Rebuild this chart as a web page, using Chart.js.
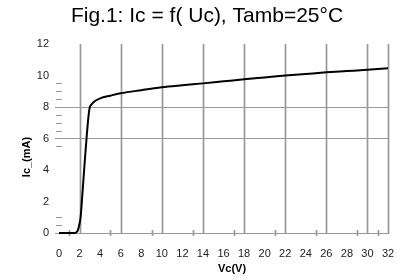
<!DOCTYPE html>
<html><head><meta charset="utf-8">
<script src="https://cdn.jsdelivr.net/npm/chart.js@4/dist/chart.umd.min.js"></script>
<style>html,body{margin:0;padding:0;background:#fff;}#wrap{width:406px;height:280px;}</style>
</head><body><div id="wrap"><canvas id="c" width="406" height="280"></canvas></div>
<script>
const chartTitle = 'Fig.1: Ic = f( Uc), Tamb=25°C';
const xTitle = 'Vc(V)';
const yTitle = 'Ic_(mA)';
const vc = [0, 1, 1.5, 1.7, 1.85, 2.0, 2.1, 2.3, 2.5, 2.7, 2.9, 3.0, 3.1, 3.5, 4, 5, 6, 8, 10, 12, 14, 16, 18, 20, 22, 24, 26, 28, 30, 32];
const ic = [0, 0, 0, 0.05, 0.2, 0.6, 1.0, 2.7, 4.5, 6.2, 7.6, 8.0, 8.12, 8.38, 8.55, 8.72, 8.87, 9.07, 9.25, 9.38, 9.5, 9.63, 9.76, 9.88, 10.0, 10.1, 10.2, 10.28, 10.36, 10.46];
const xGridValues = [2, 6, 10, 14, 18, 22, 26, 30, 32];
const yGridValues = [0, 6, 8];
const xMinorTicks = [1, 5, 9, 13, 17, 21, 25, 29, 31];
const yMinorTicks = [0.5, 1, 5.5, 6.5, 7, 7.5, 8.5, 9, 9.5];

const gridColor = '#999999';
const FONT = '"Liberation Sans", Arial, sans-serif';

const decor = {
  id: 'decor',
  beforeDatasetsDraw(chart) {
    const {ctx, scales: {x, y}, chartArea: a} = chart;
    ctx.save();
    ctx.strokeStyle = gridColor;
    ctx.lineWidth = 1.7;
    xGridValues.forEach(v => {
      const px = Math.round(x.getPixelForValue(v)) + 0.5;
      ctx.beginPath(); ctx.moveTo(px, a.top); ctx.lineTo(px, a.bottom + 1); ctx.stroke();
    });
    xMinorTicks.forEach(v => {
      const px = Math.round(x.getPixelForValue(v)) + 0.5;
      ctx.beginPath(); ctx.moveTo(px, a.bottom - 3); ctx.lineTo(px, a.bottom + 3); ctx.stroke();
    });
    ctx.lineWidth = 1;
    yMinorTicks.forEach(v => {
      const py = Math.round(y.getPixelForValue(v)) + 0.5;
      ctx.beginPath(); ctx.moveTo(a.left - 3, py); ctx.lineTo(a.left + 3, py); ctx.stroke();
    });
    ctx.restore();
  },
  afterDraw(chart) {
    const ctx = chart.ctx;
    ctx.save();
    ctx.fillStyle = '#000';
    ctx.textAlign = 'center'; ctx.textBaseline = 'middle';
    ctx.font = '21px ' + FONT;
    ctx.fillText(chartTitle, 207, 16);
    ctx.font = 'bold 11px ' + FONT;
    ctx.fillText(xTitle, 232, 269);
    ctx.translate(27, 157); ctx.rotate(-Math.PI / 2);
    ctx.fillText(yTitle, 0, 0);
    ctx.restore();
  }
};

new Chart(document.getElementById('c'), {
  type: 'line',
  data: {
    datasets: [{
      data: vc.map((v, i) => ({x: v, y: ic[i]})),
      borderColor: '#000',
      borderWidth: 2,
      pointRadius: 0,
      cubicInterpolationMode: 'monotone',
      fill: false,
      clip: false
    }]
  },
  options: {
    responsive: false,
    animation: false,
    layout: {padding: {top: 44, right: 18, left: 0, bottom: 0}},
    plugins: {legend: {display: false}, title: {display: false}, tooltip: {enabled: false}},
    scales: {
      x: {
        type: 'linear', min: 0, max: 32,
        afterFit: s => { s.height = 47; },
        ticks: {stepSize: 2, autoSkip: false, maxRotation: 0, padding: 6, color: '#222', font: {family: FONT, size: 11}},
        grid: {display: false},
        border: {display: true, color: gridColor}
      },
      y: {
        type: 'linear', min: 0, max: 12,
        afterFit: s => { s.width = 59; },
        ticks: {stepSize: 2, padding: 6, color: '#222', font: {family: FONT, size: 11}},
        grid: {
          color: c => (c.tick && yGridValues.includes(c.tick.value)) ? gridColor : 'rgba(0,0,0,0)',
          tickColor: c => (c.tick && yGridValues.includes(c.tick.value)) ? gridColor : 'rgba(0,0,0,0)',
          drawTicks: true, tickLength: 4, lineWidth: 1
        },
        border: {display: false}
      }
    }
  },
  plugins: [decor]
});
</script></body></html>
